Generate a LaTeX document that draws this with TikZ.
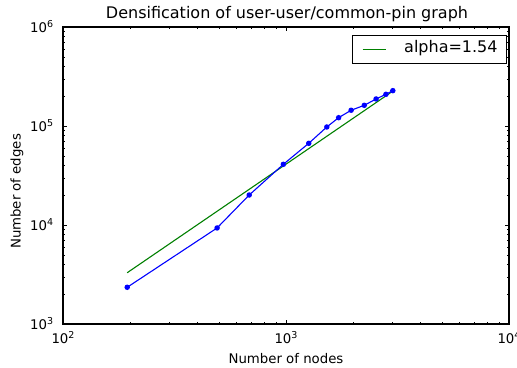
\documentclass[tikz,border=0pt]{standalone}
\usepackage{fontspec}
\setmainfont{DejaVu Sans}

\newcommand{\tenpow}[1]{10\raisebox{5pt}{\fontsize{9.5}{10}\selectfont #1}}

\begin{document}
\begin{tikzpicture}[x=1pt, y=1pt, font=\fontsize{13.3}{16}\selectfont,
  ticklbl/.style={inner sep=0pt},
  datadot/.style={circle, fill=blue, inner sep=0pt, minimum size=5.5pt}]
\useasboundingbox (0,0) rectangle (517,367);
\fill[white] (0,0) rectangle (517,367);

% data, in log10 units
\begin{scope}[shift={(63pt,43pt)}, x=223pt, y=99pt]
\draw[green!50!black, line width=1.1pt] (0.288,0.518) -- (1.479,2.352);
\draw[blue, line width=1.1pt] plot coordinates {(0.288,0.371) (0.691,0.970) (0.835,1.303) (0.988,1.613) (1.102,1.825) (1.183,1.990) (1.236,2.084) (1.292,2.159) (1.351,2.209) (1.404,2.273) (1.448,2.320) (1.479,2.357)};
\foreach \px/\py [count=\i] in {0.288/0.371, 0.691/0.970, 0.835/1.303, 0.988/1.613, 1.102/1.825, 1.183/1.990, 1.236/2.084, 1.292/2.159, 1.351/2.209, 1.404/2.273, 1.448/2.320, 1.479/2.357}
  \node[datadot] (p\i) at (\px,\py) {};

% ticks
\foreach \d in {0,1} {
  \foreach \m in {2,...,9} {
    \pgfmathsetmacro\t{\d+log10(\m)}
    \draw (\t,0) -- ++(0,2.2pt);
    \draw (\t,3) -- ++(0,-2.2pt);
  }
}
\foreach \d in {0,1,2} {
  \foreach \m in {2,...,9} {
    \pgfmathsetmacro\t{\d+log10(\m)}
    \draw (0,\t) -- ++(2.2pt,0);
    \draw (2,\t) -- ++(-2.2pt,0);
  }
}
\draw (1,0) -- ++(0,4.4pt);
\draw (1,3) -- ++(0,-4.4pt);
\foreach \t in {1,2} {
  \draw (0,\t) -- ++(4.4pt,0);
  \draw (2,\t) -- ++(-4.4pt,0);
}

% tick labels
\foreach \e [count=\i from 0] in {2,3,4}
  \node[ticklbl, anchor=base, yshift=-19.3pt] (xt\e) at (\i,0) {\tenpow{\e}};
\foreach \e [count=\i from 0] in {3,4,5,6}
  \node[ticklbl, anchor=east, xshift=-9.7pt] (yt\e) at (0,\i) {\tenpow{\e}};

\draw[line width=1.1pt] (0,0) rectangle (2,3);
\end{scope}

\node[anchor=base, font=\fontsize{16}{19}\selectfont] (title) at (287,348.7) {Densification of user-user/common-pin graph};
\node[anchor=base] (xlabel) at (286,4) {Number of nodes};
\node[anchor=base, rotate=90] (ylabel) at (20.5,175.5) {Number of edges};

% legend
\node[draw, line width=1.1pt, fill=white, anchor=north west, minimum width=153.4pt, minimum height=28.3pt, inner sep=0pt] (legend) at (352.3,332) {};
\draw[green!50!black, line width=1.3pt] ([xshift=10.4pt]legend.west) -- ++(23pt,0);
\node[anchor=base west, inner sep=0pt, font=\fontsize{16}{19}\selectfont] (alpha) at (404,314.3) {alpha=1.54};
\end{tikzpicture}
\end{document}
